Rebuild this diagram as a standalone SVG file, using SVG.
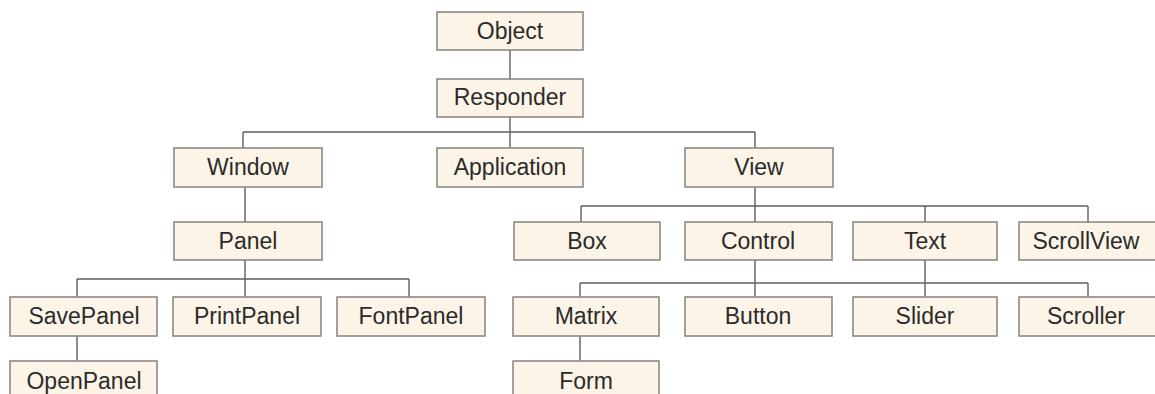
<svg xmlns="http://www.w3.org/2000/svg" width="1155" height="394" viewBox="0 0 1155 394">
<style>
.n rect{fill:#fcf4e6;stroke:#8c8a85;stroke-width:1.6}
.n text{font-family:"Liberation Sans",Arial,sans-serif;font-size:23px;fill:#2b2b2b;text-anchor:middle}
.c line{stroke:#5e5e5e;stroke-width:1.4}
</style>
<rect width="1155" height="394" fill="#ffffff"/>
<g class="c" id="connectors">
<line x1="510" y1="50" x2="510" y2="79"/>
<line x1="510" y1="117" x2="510" y2="148"/>
<line x1="243" y1="132" x2="755" y2="132"/>
<line x1="243" y1="132" x2="243" y2="148"/>
<line x1="755" y1="132" x2="755" y2="148"/>
<line x1="245" y1="187" x2="245" y2="222"/>
<line x1="245" y1="260" x2="245" y2="297"/>
<line x1="77" y1="279" x2="409" y2="279"/>
<line x1="77" y1="279" x2="77" y2="297"/>
<line x1="409" y1="279" x2="409" y2="297"/>
<line x1="77" y1="336" x2="77" y2="361"/>
<line x1="755" y1="187" x2="755" y2="222"/>
<line x1="581" y1="206" x2="1088" y2="206"/>
<line x1="581" y1="206" x2="581" y2="222"/>
<line x1="925" y1="206" x2="925" y2="222"/>
<line x1="1088" y1="206" x2="1088" y2="222"/>
<line x1="755" y1="260" x2="755" y2="297"/>
<line x1="925" y1="260" x2="925" y2="297"/>
<line x1="580" y1="283" x2="1088" y2="283"/>
<line x1="580" y1="283" x2="580" y2="297"/>
<line x1="1088" y1="283" x2="1088" y2="297"/>
<line x1="580" y1="336" x2="580" y2="361"/>
</g>
<g class="n" id="object"><rect x="437" y="12" width="146" height="38"/><text x="510" y="39">Object</text></g>
<g class="n" id="responder"><rect x="437" y="79" width="146" height="38"/><text x="510" y="105">Responder</text></g>
<g class="n" id="window"><rect x="174" y="148" width="148" height="39"/><text x="248" y="175">Window</text></g>
<g class="n" id="application"><rect x="437" y="148" width="146" height="39"/><text x="510" y="175">Application</text></g>
<g class="n" id="view"><rect x="685" y="148" width="148" height="39"/><text x="759" y="175">View</text></g>
<g class="n" id="panel"><rect x="174" y="222" width="148" height="38"/><text x="248" y="249">Panel</text></g>
<g class="n" id="box"><rect x="514" y="222" width="146" height="38"/><text x="587" y="249">Box</text></g>
<g class="n" id="control"><rect x="685" y="222" width="147" height="38"/><text x="758" y="249">Control</text></g>
<g class="n" id="text"><rect x="853" y="222" width="144" height="38"/><text x="925" y="249">Text</text></g>
<g class="n" id="scrollview"><rect x="1019" y="222" width="146" height="38"/><text x="1086" y="249">ScrollView</text></g>
<g class="n" id="savepanel"><rect x="10" y="297" width="147" height="39"/><text x="84" y="324">SavePanel</text></g>
<g class="n" id="printpanel"><rect x="173" y="297" width="148" height="39"/><text x="247" y="324">PrintPanel</text></g>
<g class="n" id="fontpanel"><rect x="337" y="297" width="148" height="39"/><text x="411" y="324">FontPanel</text></g>
<g class="n" id="matrix"><rect x="513" y="297" width="146" height="39"/><text x="586" y="324">Matrix</text></g>
<g class="n" id="button"><rect x="685" y="297" width="147" height="39"/><text x="758" y="324">Button</text></g>
<g class="n" id="slider"><rect x="853" y="297" width="144" height="39"/><text x="925" y="324">Slider</text></g>
<g class="n" id="scroller"><rect x="1019" y="297" width="146" height="39"/><text x="1086" y="324">Scroller</text></g>
<g class="n" id="openpanel"><rect x="10" y="361" width="147" height="39"/><text x="84" y="389">OpenPanel</text></g>
<g class="n" id="form"><rect x="513" y="361" width="146" height="39"/><text x="586" y="389">Form</text></g>
</svg>
